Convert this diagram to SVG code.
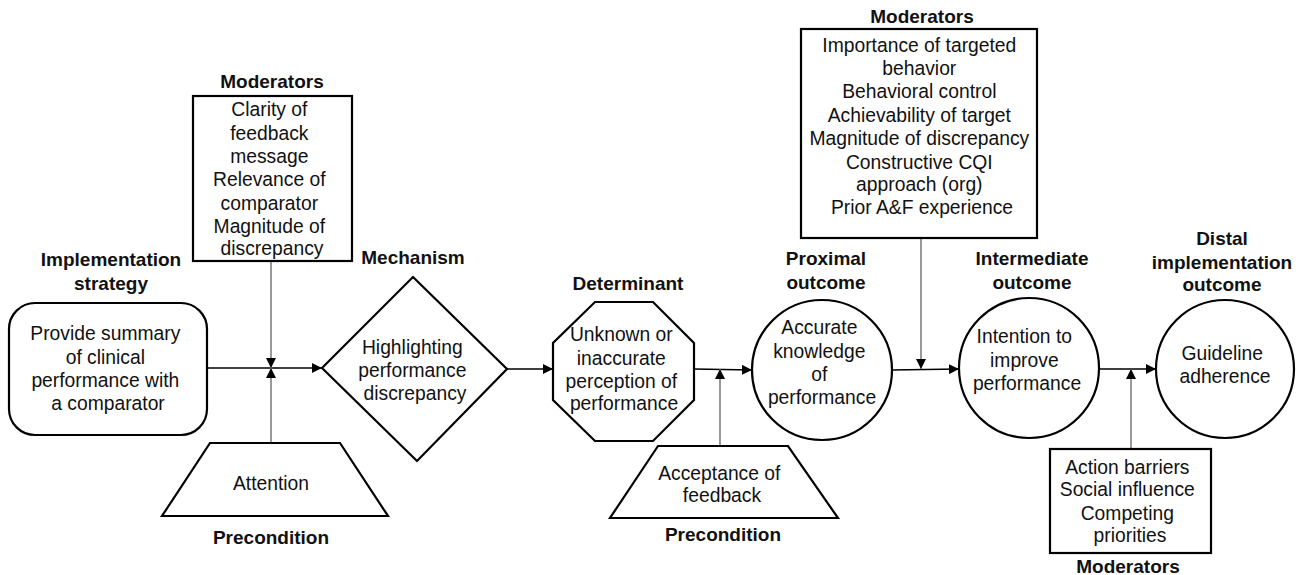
<svg xmlns="http://www.w3.org/2000/svg" width="1298" height="575" viewBox="0 0 1298 575">
  <style>
    .shape { fill: #ffffff; stroke: #000000; stroke-width: 2.2; }
    .txt { font-family: "Liberation Sans", Arial, sans-serif; font-size: 19.3px; fill: #111111; text-anchor: middle; }
    .hd { font-family: "Liberation Sans", Arial, sans-serif; font-size: 19px; font-weight: bold; fill: #111111; text-anchor: middle; }
    .flow { fill: none; stroke: #000000; stroke-width: 1.3; marker-end: url(#arrow); }
    .mod { fill: none; stroke: #808080; stroke-width: 1.6; marker-end: url(#arrow); }
  </style>
  <defs>
    <marker id="arrow" viewBox="0 0 10 10" refX="10" refY="5" markerUnits="userSpaceOnUse" markerWidth="10" markerHeight="10" orient="auto">
      <path d="M0,0 L10,5 L0,10 z" fill="#000000"/>
    </marker>
  </defs>
  <rect width="1298" height="575" fill="#ffffff"/>

  <!-- connectors -->
  <g id="connectors">
    <line class="flow" x1="207" y1="368" x2="322" y2="368"/>
    <line class="mod" x1="271" y1="261" x2="271" y2="368"/>
    <line class="mod" x1="271" y1="443" x2="271" y2="368"/>
    <line class="flow" x1="507" y1="369" x2="553" y2="369"/>
    <line class="flow" x1="694" y1="369" x2="752" y2="370"/>
    <line class="mod" x1="720" y1="446" x2="720" y2="369"/>
    <line class="flow" x1="892" y1="370" x2="959" y2="369"/>
    <line class="mod" x1="921" y1="238" x2="921" y2="369"/>
    <line class="flow" x1="1098" y1="369" x2="1156" y2="369"/>
    <line class="mod" x1="1131" y1="449" x2="1131" y2="369"/>
  </g>

  <!-- moderators feeding the strategy -> mechanism link -->
  <g id="moderators-1">
    <text class="hd" x="272" y="88">Moderators</text>
    <rect class="shape" x="193" y="96" width="159" height="165"/>
    <text class="txt">
      <tspan x="272" y="116">Clarity of</tspan>
      <tspan x="272" y="140">feedback</tspan>
      <tspan x="272" y="163">message</tspan>
      <tspan x="272" y="186">Relevance of</tspan>
      <tspan x="272" y="210">comparator</tspan>
      <tspan x="272" y="233">Magnitude of</tspan>
      <tspan x="272" y="255">discrepancy</tspan>
    </text>
  </g>

  <g id="strategy">
    <text class="hd"><tspan x="111" y="266">Implementation</tspan><tspan x="111" y="290">strategy</tspan></text>
    <rect class="shape" x="9" y="303" width="198" height="132" rx="26" ry="26"/>
    <text class="txt">
      <tspan x="108" y="340">Provide summary</tspan>
      <tspan x="108" y="363.5">of clinical</tspan>
      <tspan x="108" y="386.5">performance with</tspan>
      <tspan x="108" y="410">a comparator</tspan>
    </text>
  </g>

  <g id="precondition-1">
    <polygon class="shape" points="210,443 340,443 388,516 162,516"/>
    <text class="txt" x="271" y="490">Attention</text>
    <text class="hd" x="271" y="544">Precondition</text>
  </g>

  <g id="mechanism">
    <text class="hd" x="413" y="264">Mechanism</text>
    <polygon class="shape" points="322,368 413,277 507,369 417,461"/>
    <text class="txt">
      <tspan x="415" y="354">Highlighting</tspan>
      <tspan x="415" y="377">performance</tspan>
      <tspan x="415" y="400">discrepancy</tspan>
    </text>
  </g>

  <g id="determinant">
    <text class="hd" x="628" y="290">Determinant</text>
    <polygon class="shape" points="595,302 653,302 694,343 694,400 653,441 595,441 553,400 553,343"/>
    <text class="txt">
      <tspan x="624" y="341">Unknown or</tspan>
      <tspan x="624" y="365">inaccurate</tspan>
      <tspan x="624" y="388">perception of</tspan>
      <tspan x="624" y="410">performance</tspan>
    </text>
  </g>

  <g id="precondition-2">
    <polygon class="shape" points="658,446 788,446 838,518 610,518"/>
    <text class="txt">
      <tspan x="722" y="480">Acceptance of</tspan>
      <tspan x="722" y="502">feedback</tspan>
    </text>
    <text class="hd" x="723" y="541">Precondition</text>
  </g>

  <g id="proximal-outcome">
    <text class="hd"><tspan x="826" y="265">Proximal</tspan><tspan x="826" y="289">outcome</tspan></text>
    <circle class="shape" cx="822" cy="370" r="70"/>
    <text class="txt">
      <tspan x="822" y="334">Accurate</tspan>
      <tspan x="822" y="358">knowledge</tspan>
      <tspan x="822" y="381">of</tspan>
      <tspan x="822" y="404">performance</tspan>
    </text>
  </g>

  <!-- moderators feeding the proximal -> intermediate link -->
  <g id="moderators-2">
    <text class="hd" x="922" y="23">Moderators</text>
    <rect class="shape" x="801" y="29" width="236" height="209"/>
    <text class="txt">
      <tspan x="922" y="52">Importance of targeted</tspan>
      <tspan x="922" y="75">behavior</tspan>
      <tspan x="922" y="98">Behavioral control</tspan>
      <tspan x="922" y="122">Achievability of target</tspan>
      <tspan x="922" y="145">Magnitude of discrepancy</tspan>
      <tspan x="922" y="169">Constructive CQI</tspan>
      <tspan x="922" y="191">approach (org)</tspan>
      <tspan x="922" y="214">Prior A&amp;F experience</tspan>
    </text>
  </g>

  <g id="intermediate-outcome">
    <text class="hd"><tspan x="1032" y="265">Intermediate</tspan><tspan x="1032" y="289">outcome</tspan></text>
    <circle class="shape" cx="1029" cy="368" r="70"/>
    <text class="txt">
      <tspan x="1027" y="343">Intention to</tspan>
      <tspan x="1027" y="367">improve</tspan>
      <tspan x="1027" y="390">performance</tspan>
    </text>
  </g>

  <g id="distal-outcome">
    <text class="hd"><tspan x="1222" y="245">Distal</tspan><tspan x="1222" y="269">implementation</tspan><tspan x="1222" y="291">outcome</tspan></text>
    <circle class="shape" cx="1225" cy="369" r="69"/>
    <text class="txt">
      <tspan x="1225" y="360">Guideline</tspan>
      <tspan x="1225" y="383">adherence</tspan>
    </text>
  </g>

  <!-- moderators feeding the intermediate -> distal link -->
  <g id="moderators-3">
    <rect class="shape" x="1050" y="449" width="161" height="104"/>
    <text class="txt">
      <tspan x="1130" y="474">Action barriers</tspan>
      <tspan x="1130" y="496">Social influence</tspan>
      <tspan x="1130" y="520">Competing</tspan>
      <tspan x="1130" y="542">priorities</tspan>
    </text>
    <text class="hd" x="1128" y="573">Moderators</text>
  </g>
</svg>
